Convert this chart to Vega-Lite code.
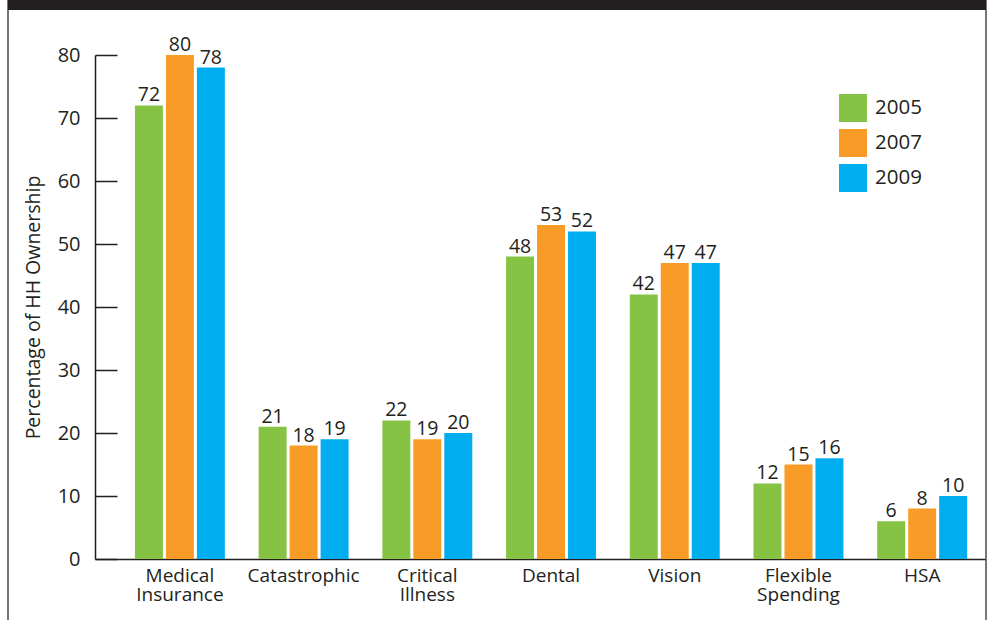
{
  "$schema": "https://vega.github.io/schema/vega-lite/v6.json",
  "width": 978,
  "height": 640,
  "autosize": {"type": "none"},
  "padding": {"left": 8, "top": 0, "right": 8, "bottom": 0},
  "background": "white",
  "config": {
    "view": {"stroke": "#4a4a4a", "strokeWidth": 1.5},
    "font": "Open Sans",
    "axis": {"labelColor": "#231f20", "titleColor": "#231f20", "domainColor": "#231f20", "tickColor": "#231f20", "grid": false}
  },
  "data": {
    "values": [
      {"category": "Medical Insurance", "year": "2005", "value": 72},
      {"category": "Medical Insurance", "year": "2007", "value": 80},
      {"category": "Medical Insurance", "year": "2009", "value": 78},
      {"category": "Catastrophic", "year": "2005", "value": 21},
      {"category": "Catastrophic", "year": "2007", "value": 18},
      {"category": "Catastrophic", "year": "2009", "value": 19},
      {"category": "Critical Illness", "year": "2005", "value": 22},
      {"category": "Critical Illness", "year": "2007", "value": 19},
      {"category": "Critical Illness", "year": "2009", "value": 20},
      {"category": "Dental", "year": "2005", "value": 48},
      {"category": "Dental", "year": "2007", "value": 53},
      {"category": "Dental", "year": "2009", "value": 52},
      {"category": "Vision", "year": "2005", "value": 42},
      {"category": "Vision", "year": "2007", "value": 47},
      {"category": "Vision", "year": "2009", "value": 47},
      {"category": "Flexible Spending", "year": "2005", "value": 12},
      {"category": "Flexible Spending", "year": "2007", "value": 15},
      {"category": "Flexible Spending", "year": "2009", "value": 16},
      {"category": "HSA", "year": "2005", "value": 6},
      {"category": "HSA", "year": "2007", "value": 8},
      {"category": "HSA", "year": "2009", "value": 10}
    ]
  },
  "layer": [
    {
      "mark": {"type": "bar", "clip": false},
      "encoding": {
        "x": {
          "field": "category", "type": "nominal", "sort": null,
          "scale": {"range": [87, 977], "paddingInner": 0, "paddingOuter": 0.097, "align": 0.96},
          "axis": {
            "title": null, "orient": "bottom", "offset": -81, "ticks": false, "labelAngle": 0,
            "labelFontSize": 19, "labelPadding": 7, "labelLineHeight": 19, "labelBaseline": "top",
            "labelExpr": "split(datum.value, ' ')", "domainWidth": 1.5
          }
        },
        "xOffset": {
          "field": "year", "type": "nominal",
          "scale": {"paddingInner": 0.097, "paddingOuter": 0.545}
        },
        "y": {
          "field": "value", "type": "quantitative",
          "scale": {"domain": [0, 80], "range": [559, 55], "nice": false},
          "axis": {
            "title": "Percentage of HH Ownership", "titleFontSize": 19.5, "titleFontWeight": "normal",
            "titlePadding": 14,
            "values": [0, 10, 20, 30, 40, 50, 60, 70, 80], "offset": -87, "tickSize": -22,
            "labelFontSize": 20, "labelPadding": 37, "domainWidth": 1.5, "tickWidth": 1.5
          }
        },
        "color": {
          "field": "year", "type": "nominal",
          "scale": {"domain": ["2005", "2007", "2009"], "range": ["#86c344", "#f89c27", "#00aeef"]},
          "legend": {
            "title": null, "orient": "none", "legendX": 831, "legendY": 94,
            "symbolType": "square", "symbolSize": 784, "symbolStrokeWidth": 0, "symbolOpacity": 1,
            "labelFontSize": 20.5, "labelColor": "#231f20", "labelOffset": 8, "rowPadding": 7
          }
        }
      }
    },
    {
      "mark": {"type": "text", "baseline": "alphabetic", "dy": -4, "fontSize": 19.5, "color": "#231f20"},
      "encoding": {
        "x": {"field": "category", "type": "nominal", "sort": null},
        "xOffset": {"field": "year", "type": "nominal"},
        "y": {"field": "value", "type": "quantitative"},
        "text": {"field": "value", "type": "quantitative"}
      }
    },
    {
      "mark": {"type": "rule", "color": "#231f20", "strokeWidth": 10},
      "encoding": {
        "y": {"datum": 88}
      }
    }
  ]
}
